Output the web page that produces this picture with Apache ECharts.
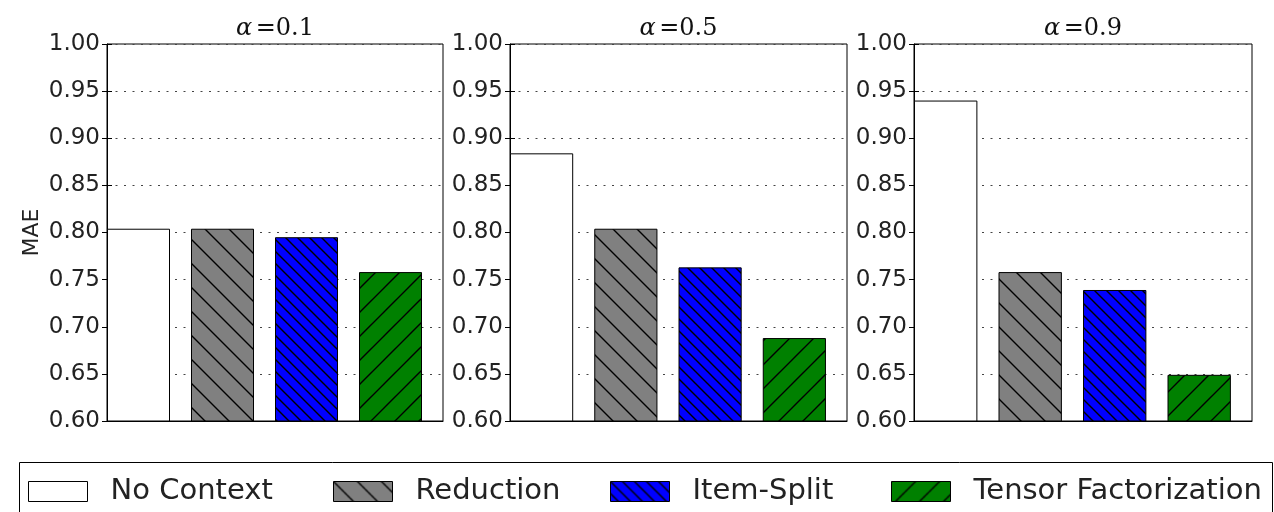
<!DOCTYPE html>
<html>
<head>
<meta charset="utf-8">
<script src="https://cdn.jsdelivr.net/npm/echarts@6/dist/echarts.min.js"></script>
<style>
html,body{margin:0;padding:0;background:#fff;}
#chart{width:1274px;height:512px;}
</style>
</head>
<body>
<div id="chart"></div>
<script>
// ---- data ----
const methods = ['No Context', 'Reduction', 'Item-Split', 'Tensor Factorization'];
const alphas = ['0.1', '0.5', '0.9'];
const maeAlpha01 = [0.804, 0.804, 0.795, 0.758];
const maeAlpha05 = [0.884, 0.804, 0.763, 0.688];
const maeAlpha09 = [0.940, 0.758, 0.739, 0.649];
const panelValues = [maeAlpha01, maeAlpha05, maeAlpha09];
const yMin = 0.60, yMax = 1.00, yStep = 0.05;

// ---- styles ----
function hatch(bg, size, dir, lw) {
  const c = document.createElement('canvas');
  c.width = size; c.height = size;
  const g = c.getContext('2d');
  g.fillStyle = bg; g.fillRect(0, 0, size, size);
  if (dir) {
    g.strokeStyle = '#000'; g.lineWidth = lw;
    g.beginPath();
    for (const k of [-size, 0, size]) {
      if (dir === 'back') { g.moveTo(-2, -2 + k); g.lineTo(size + 2, size + 2 + k); }
      else { g.moveTo(-2, size + 2 + k); g.lineTo(size + 2, -2 + k); }
    }
    g.stroke();
  }
  return { image: c, repeat: 'repeat' };
}
const fills = [
  '#ffffff',
  hatch('#808080', 24, 'back', 1.4),
  hatch('#0000ff', 12, 'back', 1.4),
  hatch('#008000', 24, 'fwd', 1.4)
];

const grids = [
  { left: 107, width: 336 },
  { left: 510, width: 337 },
  { left: 914, width: 338 }
];
const font = 'DejaVu Sans, Bitstream Vera Sans, sans-serif';

const option = {
  animation: false,
  backgroundColor: '#fff',
  grid: grids.map(g => ({
    left: g.left, width: g.width, top: 44, height: 377,
    show: true, borderColor: '#000', borderWidth: 1, backgroundColor: 'transparent',
    containLabel: false, outerBoundsMode: 'none'
  })),
  xAxis: [],
  yAxis: [],
  series: [],
  legend: [],
  graphic: [{
    type: 'rect', left: 17, top: 460, silent: true,
    shape: { width: 1253, height: 70 },
    style: { fill: 'none', stroke: '#000', lineWidth: 1 }
  }]
};

grids.forEach((g, p) => {
  option.xAxis.push({
    type: 'value', gridIndex: p, min: 0, max: methods.length, position: 'bottom',
    axisLine: { show: true, onZero: false, lineStyle: { color: '#000', width: 1 } },
    axisTick: { show: false }, axisLabel: { show: false }, splitLine: { show: false }
  });
  option.xAxis.push({
    type: 'value', gridIndex: p, min: 0, max: methods.length, position: 'top',
    name: '{a|α} {b|=' + alphas[p] + '}', nameLocation: 'middle', nameGap: 3,
    nameTextStyle: {
      rich: {
        a: { fontFamily: 'DejaVu Serif, serif', fontStyle: 'italic', fontSize: 24, color: '#111' },
        b: { fontFamily: 'DejaVu Serif, serif', fontSize: 24, color: '#111' }
      }
    },
    axisLine: { show: false }, axisTick: { show: false }, axisLabel: { show: false }, splitLine: { show: false }
  });
  option.yAxis.push({
    type: 'value', gridIndex: p, min: yMin, max: yMax, interval: yStep, position: 'left',
    name: p === 0 ? 'MAE' : '', nameLocation: 'middle', nameGap: 64,
    nameTextStyle: { fontFamily: font, fontSize: 22, color: '#222' },
    axisLine: { show: true, onZero: false, lineStyle: { color: '#000', width: 1 } },
    axisTick: { show: true, inside: true, length: 5, lineStyle: { color: '#000' } },
    axisLabel: { margin: 7, fontFamily: font, fontSize: 23, color: '#222',
      formatter: v => v.toFixed(2) },
    splitLine: { show: true, lineStyle: { color: '#444', width: 1, type: [2, 6.5] } }
  });
  option.yAxis.push({
    type: 'value', gridIndex: p, min: yMin, max: yMax, interval: yStep, position: 'right',
    axisLine: { show: false },
    axisTick: { show: true, inside: true, length: 5, lineStyle: { color: '#000' } },
    axisLabel: { show: false }, splitLine: { show: false }
  });
  methods.forEach((m, i) => {
    option.series.push({
      type: 'bar', name: m, xAxisIndex: 2 * p, yAxisIndex: 2 * p,
      barWidth: '75%', barGap: '-100%',
      itemStyle: { color: fills[i], borderColor: '#000', borderWidth: 1 },
      emphasis: { disabled: true },
      data: [[i + 0.375, panelValues[p][i]]]
    });
  });
});

const legendLefts = [28, 333, 610, 891];
methods.forEach((m, i) => {
  option.legend.push({
    data: [m], left: legendLefts[i], top: 477, padding: 0,
    icon: 'rect', itemWidth: 59, itemHeight: 20,
    itemStyle: { borderColor: '#000', borderWidth: 1 },
    selectedMode: false,
    textStyle: { fontFamily: font, fontSize: 29, color: '#222', lineHeight: 20, padding: [0, 0, 0, 18] }
  });
});

const chart = echarts.init(document.getElementById('chart'), null, { renderer: 'canvas' });
chart.setOption(option);
</script>
</body>
</html>
